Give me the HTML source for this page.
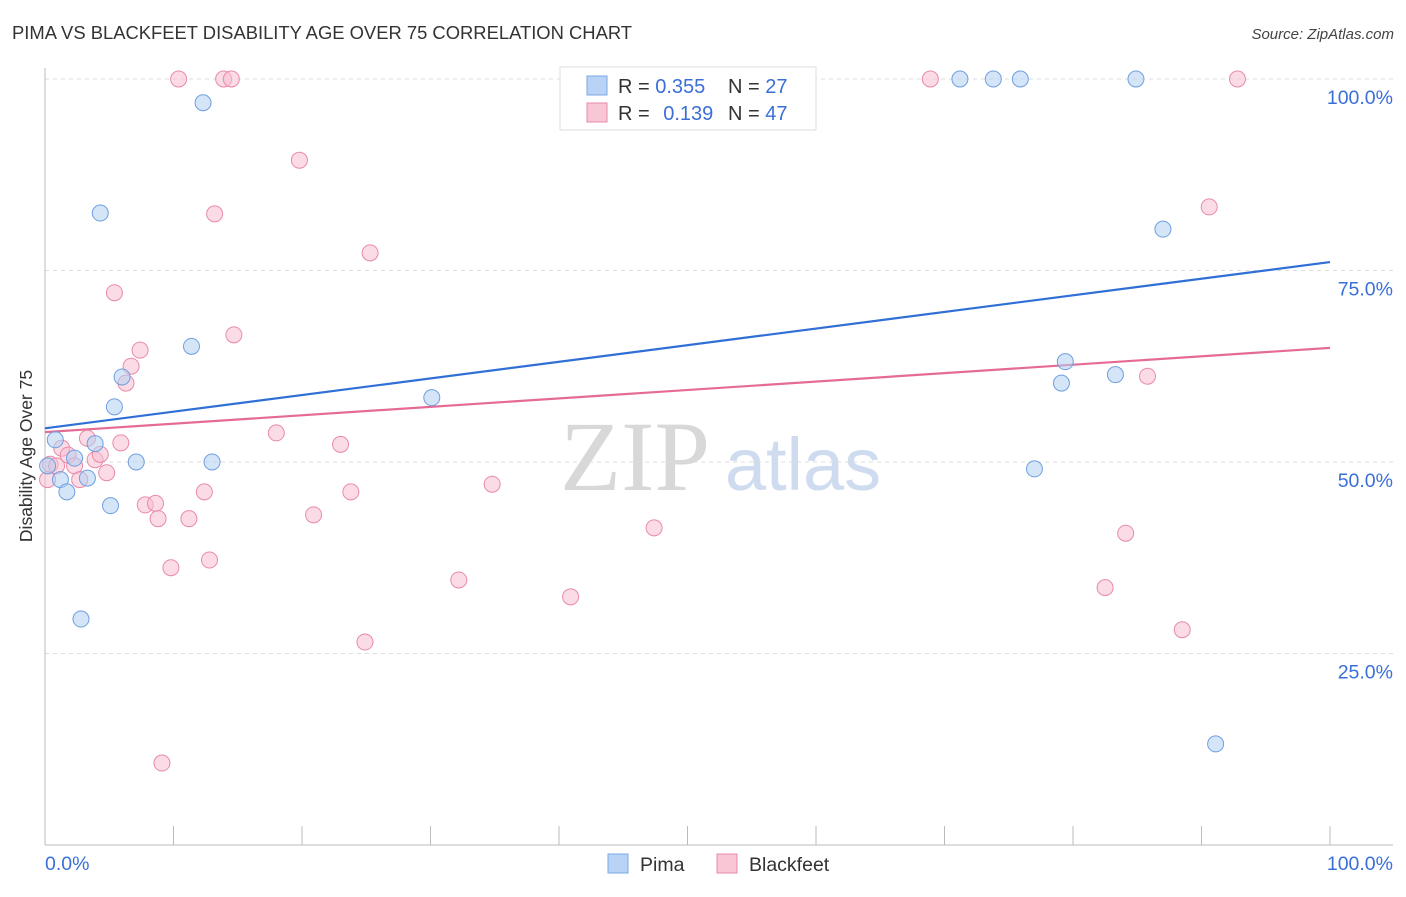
<!DOCTYPE html>
<html><head><meta charset="utf-8"><style>
body{margin:0;background:#fff;font-family:"Liberation Sans",sans-serif;}
svg text{font-family:"Liberation Sans",sans-serif;}
</style></head><body>
<svg id="chart" width="1406" height="892">
<text x="12" y="39" font-size="18.4" fill="#333">PIMA VS BLACKFEET DISABILITY AGE OVER 75 CORRELATION CHART</text>
<text x="1394" y="39" font-size="15" fill="#444" text-anchor="end" font-style="italic">Source: ZipAtlas.com</text>
<text x="32" y="456" font-size="17.5" fill="#333" text-anchor="middle" transform="rotate(-90 32 456)">Disability Age Over 75</text>
<g>
<text x="635" y="490" font-size="100" fill="#d8d8d8" text-anchor="middle" font-family="Liberation Serif" style="font-family:'Liberation Serif',serif">ZIP</text>
<text x="803" y="490" font-size="74" fill="#cfdcf0" text-anchor="middle">atlas</text>
</g>
<g id="grid"></g><g id="axes"></g><g id="trends"></g><g id="points"></g>
<g>
<rect x="560" y="67" width="256" height="63" fill="#fff" stroke="#ddd"/>
<rect x="587" y="76" width="20" height="19" fill="#b8d3f5" stroke="#7aa7e3"/>
<text x="618" y="93" font-size="20" fill="#333">R = <tspan fill="#3a6fd8">0.355</tspan><tspan x="728">N = </tspan><tspan fill="#3a6fd8">27</tspan></text>
<rect x="587" y="103" width="20" height="19" fill="#f8c6d5" stroke="#e98aa8"/>
<text x="618" y="120" font-size="20" fill="#333">R = <tspan fill="#3a6fd8" dx="8">0.139</tspan><tspan x="728">N = </tspan><tspan fill="#3a6fd8">47</tspan></text>
</g>
<g>
<rect x="608" y="854" width="20" height="19" fill="#b8d3f5" stroke="#7aa7e3"/>
<text x="640" y="871" font-size="19.5" fill="#333">Pima</text>
<rect x="717" y="854" width="20" height="19" fill="#f8c6d5" stroke="#e98aa8"/>
<text x="749" y="871" font-size="19.5" fill="#333">Blackfeet</text>
</g>
</svg>
<script>
const yTicks=[25,50,75,100];
const yTickLabels=["25.0%","50.0%","75.0%","100.0%"];
const xTickValues=[0,10,20,30,40,50,60,70,80,90,100];
const pimaX=[0.8,1.2,1.7,2.3,3.3,3.9,4.3,5.1,5.4,6.0,7.1,2.8,11.4,12.3,13.0,30.1,71.2,73.8,75.9,84.9,87.0,79.4,79.1,83.3,77.0,91.1,0.2];
const pimaY=[52.9,47.7,46.1,50.5,47.9,52.4,82.5,44.3,57.2,61.1,50.0,29.5,65.1,96.9,50.0,58.4,100,100,100,100,80.4,63.1,60.3,61.4,49.1,13.2,49.5];
const bfX=[0.2,0.4,0.9,1.3,1.8,2.3,2.7,3.3,3.9,4.3,4.8,5.4,5.9,6.3,6.7,7.4,7.8,8.6,8.8,9.1,9.8,10.4,11.2,12.4,12.8,13.2,13.9,14.5,14.7,18.0,19.8,20.9,23.0,23.8,24.9,25.3,32.2,34.8,40.9,47.4,68.9,82.5,84.1,85.8,88.5,90.6,92.8];
const bfY=[47.7,49.7,49.5,51.8,50.9,49.5,47.7,53.1,50.3,51.0,48.6,72.1,52.5,60.3,62.5,64.6,44.4,44.6,42.6,10.7,36.2,100,42.6,46.1,37.2,82.4,100,100,66.6,53.8,89.4,43.1,52.3,46.1,26.5,77.3,34.6,47.1,32.4,41.4,100,33.6,40.7,61.2,28.1,83.3,100];
const pimaTrend=[54.4,76.1];
const bfTrend=[53.9,64.9];
const NS="http://www.w3.org/2000/svg";
const X=v=>45+v*12.85, Y=v=>845-v*7.66;
function mk(p,tag,at){const e=document.createElementNS(NS,tag);for(const k in at)e.setAttribute(k,at[k]);p.appendChild(e);return e;}
const grid=document.getElementById('grid'),axes=document.getElementById('axes'),tr=document.getElementById('trends'),pts=document.getElementById('points');
yTicks.forEach((t,i)=>{
 const l=mk(grid,'line',{x1:45,x2:1393,y1:Y(t),y2:Y(t),stroke:'#ddd','stroke-dasharray':'4,4'});
 
 
 const tx=mk(grid,'text',{x:1393,y:Y(t)+25,'font-size':19.5,fill:'#3a6fd8','text-anchor':'end'});
 tx.textContent=yTickLabels[i];
 
 
});
const la=mk(axes,'line',{x1:45,x2:45,y1:68,y2:845,stroke:'#bbb'});


const ba=mk(axes,'line',{x1:45,x2:1393,y1:845,y2:845,stroke:'#bbb'});


xTickValues.forEach(v=>{
 const t=mk(axes,'line',{x1:X(v),x2:X(v),y1:826,y2:845,stroke:'#bbb'});
 
 
});
[[0,'0.0%',45,'start'],[100,'100.0%',1393,'end']].forEach(a=>{
 const t=mk(axes,'text',{x:a[2],y:870,'font-size':19.5,fill:'#3a6fd8','text-anchor':a[3]});
 t.textContent=a[1];
 
 
});
function dots(xs,ys,fill,stroke,name){xs.forEach((x,i)=>{
 const c=mk(pts,'circle',{cx:X(x),cy:Y(ys[i]),r:8,fill:fill,'fill-opacity':0.55,stroke:stroke,'stroke-width':1});
 
 
});}
dots(bfX,bfY,'#f8c0d2','#e98aa8','blackfeet-point');
dots(pimaX,pimaY,'#b3cff3','#6f9fe0','pima-point');
const t1=mk(tr,'line',{x1:X(0),x2:X(100),y1:Y(pimaTrend[0]),y2:Y(pimaTrend[1]),stroke:'#2f6fd6','stroke-width':2.2});


const t2=mk(tr,'line',{x1:X(0),x2:X(100),y1:Y(bfTrend[0]),y2:Y(bfTrend[1]),stroke:'#e56b95','stroke-width':2.2});


</script>
</body></html>
